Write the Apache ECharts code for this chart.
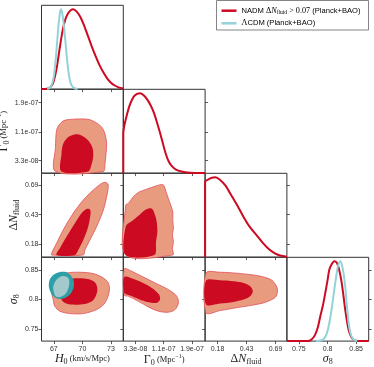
<!DOCTYPE html>
<html><head><meta charset="utf-8">
<script src="https://cdn.jsdelivr.net/npm/echarts@6/dist/echarts.min.js"></script>
<style>html,body{margin:0;padding:0;background:#fff}#c{width:374px;height:367px}</style>
</head><body><div id="c"></div>
<script>
// ---------- tick values & labels ----------
const h0Ticks = [67, 70, 73];
const h0TickLabels = ['67', '70', '73'];
const gammaTicks = [3.33, 11.1, 18.9];            // Gamma_0 in units of 1e-8 Mpc^-1
const gammaTickLabels = ['3.3e-08', '1.1e-07', '1.9e-07'];
const dnTicks = [0.18, 0.435, 0.69];
const dnTickLabels = ['0.18', '0.43', '0.69'];
const s8Ticks = [0.75, 0.80, 0.85];
const s8TickLabels = ['0.75', '0.8', '0.85'];

const seriesNames = ['NADM \u0394N_fluid > 0.07 (Planck+BAO)', '\u039BCDM (Planck+BAO)'];

// ---------- 1D marginals (normalised) ----------
const h0NadmPdf = [[65.7,0],[66.3,0.005],[66.6,0.02],[66.9,0.07],[67.1,0.15],[67.35,0.3],[67.6,0.5],[67.9,0.72],[68.2,0.87],[68.5,0.95],[68.8,0.99],[69.03,1.0],[69.4,0.97],[69.8,0.9],[70.2,0.79],[70.6,0.66],[71.0,0.53],[71.4,0.41],[71.8,0.3],[72.2,0.21],[72.6,0.135],[73.0,0.08],[73.4,0.045],[73.8,0.022],[74.3,0.008]];
const h0LcdmPdf = [[66.3,0],[66.6,0.02],[66.85,0.08],[67.05,0.2],[67.25,0.45],[67.45,0.75],[67.6,0.92],[67.73,1.0],[67.88,0.95],[68.05,0.8],[68.25,0.55],[68.45,0.3],[68.65,0.13],[68.85,0.05],[69.1,0.015],[69.5,0]];
const gammaNadmPdf = [[0,0],[0,0.5],[0.3,0.6],[0.93,0.72],[1.6,0.83],[2.3,0.91],[3.2,0.975],[4.6,1.0],[5.6,0.975],[6.6,0.92],[7.5,0.85],[8.3,0.77],[9.1,0.66],[10.0,0.52],[10.9,0.37],[11.7,0.24],[12.4,0.155],[13.3,0.09],[14.5,0.045],[16,0.02],[17.5,0.008],[19.5,0.002],[22.5,0]];
const dnNadmPdf = [[0.07,0],[0.07,0.944],[0.1,0.975],[0.13,0.995],[0.16,1.0],[0.2,0.97],[0.25,0.895],[0.29,0.8],[0.35,0.655],[0.4075,0.506],[0.46,0.385],[0.526,0.27],[0.58,0.175],[0.63,0.1],[0.68,0.05],[0.73,0.02],[0.79,0.005]];
const s8NadmPdf = [[0.729,0],[0.765,0],[0.772,0.02],[0.778,0.075],[0.783,0.17],[0.787,0.3],[0.792,0.45],[0.796,0.6],[0.8,0.76],[0.803,0.89],[0.807,0.96],[0.812,1.0],[0.816,0.985],[0.819,0.93],[0.822,0.84],[0.825,0.72],[0.828,0.56],[0.831,0.39],[0.834,0.25],[0.837,0.14],[0.841,0.06],[0.845,0.02],[0.85,0.005],[0.872,0]];
const s8LcdmPdf = [[0.78,0],[0.79,0.01],[0.795,0.04],[0.799,0.1],[0.803,0.22],[0.807,0.39],[0.811,0.6],[0.815,0.8],[0.818,0.93],[0.822,1.0],[0.825,0.96],[0.828,0.85],[0.831,0.68],[0.833,0.51],[0.835,0.36],[0.837,0.22],[0.84,0.1],[0.843,0.046],[0.847,0.01],[0.852,0]];

// ---------- 2D contours (95% / 68%) ----------
const h0Gamma95 = [[67.17,0.44],[67.17,6.95],[67.28,11.47],[67.52,12.82],[67.98,14.0],[68.51,14.36],[69.56,14.54],[70.61,14.45],[71.32,13.72],[72.02,12.37],[72.37,10.56],[72.55,7.85],[72.48,5.14],[72.37,2.43],[72.2,0.44]];
const h0Gamma68 = [[67.8,0.44],[67.8,5.14],[67.98,7.85],[68.51,9.66],[69.21,10.38],[69.91,10.11],[70.61,8.76],[71.04,6.95],[71.14,4.69],[70.97,2.43],[70.61,0.44]];
const h0Dn95 = [[66.75,0.088],[70.09,0.088],[70.26,0.131],[70.79,0.217],[71.49,0.331],[72.2,0.474],[72.55,0.589],[72.72,0.689],[72.48,0.712],[72.02,0.703],[71.14,0.646],[70.09,0.56],[69.03,0.446],[67.98,0.303],[67.28,0.188],[66.75,0.102]];
const h0Dn68 = [[67.28,0.088],[69.21,0.088],[69.56,0.131],[70.09,0.217],[70.61,0.331],[70.86,0.446],[70.79,0.48],[70.44,0.483],[69.91,0.446],[69.21,0.36],[68.33,0.245],[67.63,0.145]];
const h0S8Nadm95 = [[66.93,0.7999],[67.1,0.7885],[67.63,0.78],[68.68,0.776],[70.09,0.776],[71.49,0.7828],[72.37,0.7942],[72.83,0.814],[72.72,0.8283],[72.2,0.8368],[71.14,0.8442],[69.74,0.8465],[68.33,0.8453],[67.45,0.8396],[66.93,0.8283],[66.75,0.814]];
const h0S8Nadm68 = [[67.8,0.7999],[68.16,0.7942],[68.86,0.7914],[70.26,0.7925],[71.14,0.7988],[71.56,0.814],[71.42,0.8272],[70.79,0.834],[69.56,0.8362],[68.51,0.834],[67.8,0.8226],[67.63,0.8113]];
const h0S8Lcdm95 = [[66.47,0.822],[66.57,0.834],[67.0,0.8425],[67.63,0.8468],[68.26,0.8468],[68.79,0.8408],[69.1,0.8306],[69.05,0.8186],[68.68,0.8084],[68.05,0.8016],[67.31,0.8016],[66.79,0.8084]];
const h0S8Lcdm68 = [[67.0,0.8118],[66.94,0.822],[67.21,0.8323],[67.63,0.8382],[68.05,0.8399],[68.47,0.8374],[68.63,0.8306],[68.52,0.8186],[68.16,0.8084],[67.63,0.8041],[67.21,0.805]];
const gammaDn95 = [[0.65,0.088],[0.65,0.517],[1.39,0.531],[2.76,0.589],[4.14,0.626],[6.43,0.654],[9.19,0.683],[10.57,0.694],[11.21,0.683],[11.76,0.632],[12.4,0.574],[13.04,0.517],[13.6,0.46],[13.6,0.388],[13.78,0.317],[13.5,0.26],[13.78,0.202],[13.5,0.145],[13.6,0.088]];
const gammaDn68 = [[0.65,0.088],[0.65,0.331],[2.76,0.388],[4.59,0.437],[5.97,0.474],[7.35,0.489],[8.08,0.48],[8.72,0.431],[9.19,0.374],[9.37,0.288],[9.0,0.202],[8.54,0.088]];
const gammaS8_95 = [[0.28,0.8522],[2.31,0.8482],[5.06,0.8396],[8.73,0.8283],[12.4,0.8169],[14.7,0.8056],[15.16,0.7942],[14.24,0.7828],[12.4,0.7783],[9.65,0.78],[6.89,0.7874],[4.14,0.797],[1.39,0.8056],[0.28,0.8073]];
const gammaS8_68 = [[0.28,0.8385],[3.22,0.834],[5.98,0.8266],[8.27,0.8181],[9.83,0.8084],[10.11,0.7999],[9.19,0.7942],[6.89,0.7953],[4.14,0.801],[1.85,0.8067],[0.28,0.8113]];
const dnS8_95 = [[0.0788,0.8453],[0.2022,0.8465],[0.3197,0.8453],[0.4666,0.8425],[0.584,0.8385],[0.6575,0.8328],[0.6957,0.8237],[0.7074,0.8158],[0.6957,0.8056],[0.6575,0.7999],[0.584,0.7942],[0.4666,0.7897],[0.3197,0.7851],[0.2022,0.7811],[0.0788,0.7772]];
const dnS8_68 = [[0.0788,0.8323],[0.2022,0.8328],[0.3197,0.8311],[0.4078,0.8283],[0.4666,0.8226],[0.4901,0.814],[0.4666,0.8056],[0.4078,0.7999],[0.3197,0.7959],[0.2022,0.7931],[0.0788,0.7914]];

// ---------- styling ----------
const RED = '#cc0a22', SALMON = '#e89b7f', EDGE = '#e2505a';
const CYAN = '#93d3d8', TEAL = '#2c9fa7', TEAL_IN = '#a4c9cd';
const TXT = '#222';
const SERIF = 'Liberation Serif', SANS = 'Liberation Sans';

const NAME_RICH = {
  i:   {fontFamily: SERIF, fontStyle: 'italic', fontSize: 12, lineHeight: 14, color: TXT},
  r:   {fontFamily: SERIF, fontSize: 12, lineHeight: 14, color: TXT},
  sub: {fontFamily: SERIF, fontSize: 8, lineHeight: 7, verticalAlign: 'bottom', color: TXT},
  u:   {fontFamily: SERIF, fontSize: 8.5, lineHeight: 14, color: TXT},
  sup: {fontFamily: SERIF, fontSize: 6, lineHeight: 8, verticalAlign: 'top', color: TXT}
};

const VARS = [
  {min: 65.7, max: 74.3, ticks: h0Ticks, labels: h0TickLabels, name: '{i|H}{sub|0}{u| (km/s/Mpc)}', yGap: 19},
  {min: 0, max: 22.5, ticks: gammaTicks, labels: gammaTickLabels, name: '{r|\u0393}{sub|0}{u| (Mpc}{sup|\u22121}{u|)}', yGap: 26},
  {min: 0.07, max: 0.79, ticks: dnTicks, labels: dnTickLabels, name: '{r|\u0394}{i|N}{sub|fluid}', yGap: 19},
  {min: 0.729, max: 0.872, ticks: s8Ticks, labels: s8TickLabels, name: '{i|\u03C3}{sub|8}', yGap: 19}
];

const COL_LEFT = [41.5, 123.3, 205.1, 286.9];
const ROW_TOP = [5.3, 89.3, 173.3, 257.3];
const CELL_W = 81.8, CELL_H = 83.8;

function labelOf(v, val) {
  for (let i = 0; i < v.ticks.length; i++) if (Math.abs(v.ticks[i] - val) < 1e-9) return v.labels[i];
  return '';
}

const grids = [], xAxes = [], yAxes = [], series = [];

function makeAxis(v, gi, isX, showLabels, showName) {
  return {
    type: 'value', gridIndex: gi, min: v.min, max: v.max, scale: false,
    axisLine: {show: false}, splitLine: {show: false}, splitArea: {show: false},
    axisTick: {show: true, inside: false, length: 3, customValues: v.ticks, lineStyle: {color: '#333', width: 0.8}},
    axisLabel: {show: showLabels, customValues: v.ticks, formatter: val => labelOf(v, val),
      fontSize: 7, color: '#333', fontFamily: SANS, margin: isX ? 4 : 3},
    name: showName ? v.name : '', nameLocation: 'middle',
    nameGap: isX ? 9 : v.yGap, nameRotate: isX ? 0 : 90,
    nameTextStyle: {rich: NAME_RICH, color: TXT}
  };
}

function polySeries(xi, yi, pts, fill, stroke, z) {
  return {
    type: 'custom', xAxisIndex: xi, yAxisIndex: yi, coordinateSystem: 'cartesian2d',
    data: pts, z: z, silent: true, encode: {x: 0, y: 1},
    renderItem: function (params, api) {
      if (params.dataIndex !== 0) return null;
      const points = pts.map(p => api.coord(p));
      return {type: 'polygon', shape: {points: points, smooth: 0.3},
        style: {fill: fill, stroke: stroke || null, lineWidth: stroke ? 0.8 : 0}};
    }
  };
}

function lineSeries(xi, yi, data, color, z, name) {
  return {type: 'line', name: name, xAxisIndex: xi, yAxisIndex: yi, data: data, showSymbol: false, symbol: 'none',
    smooth: 0.3, silent: true, z: z, lineStyle: {color: color, width: 2}, itemStyle: {color: color}};
}

const twoD = {
  '1,0': [[h0Gamma95, SALMON, EDGE], [h0Gamma68, RED, null]],
  '2,0': [[h0Dn95, SALMON, EDGE], [h0Dn68, RED, null]],
  '3,0': [[h0S8Nadm95, SALMON, EDGE], [h0S8Nadm68, RED, null], [h0S8Lcdm95, TEAL, null], [h0S8Lcdm68, TEAL_IN, null]],
  '2,1': [[gammaDn95, SALMON, EDGE], [gammaDn68, RED, null]],
  '3,1': [[gammaS8_95, SALMON, EDGE], [gammaS8_68, RED, null]],
  '3,2': [[dnS8_95, SALMON, EDGE], [dnS8_68, RED, null]]
};
const oneD = {
  0: [[h0NadmPdf, RED], [h0LcdmPdf, CYAN]],
  1: [[gammaNadmPdf, RED]],
  2: [[dnNadmPdf, RED]],
  3: [[s8NadmPdf, RED], [s8LcdmPdf, CYAN]]
};

for (let r = 0; r < 4; r++) {
  for (let c = 0; c <= r; c++) {
    const gi = grids.length;
    grids.push({left: COL_LEFT[c], top: ROW_TOP[r], width: CELL_W, height: CELL_H,
      show: true, borderColor: '#333', borderWidth: 1, backgroundColor: 'rgba(0,0,0,0)',
      containLabel: false, outerBoundsMode: 'none'});
    const xi = xAxes.length;
    xAxes.push(makeAxis(VARS[c], gi, true, r === 3, r === 3));
    if (c === r) {
      const yi = yAxes.length;
      yAxes.push({type: 'value', gridIndex: gi, min: 0, max: 1.05, show: false});
      if (r > 0) {
        const t = makeAxis(VARS[r], gi, false, false, false);
        yAxes.push(t);
      }
      oneD[r].forEach((d, k) => series.push(lineSeries(xi, yi, d[0], d[1], 5 + k, seriesNames[k])));
    } else {
      const yi = yAxes.length;
      yAxes.push(makeAxis(VARS[r], gi, false, c === 0, c === 0));
      twoD[r + ',' + c].forEach((p, k) => series.push(polySeries(xi, yi, p[0], p[1], p[2], 2 + k)));
    }
  }
}

const LEG_RICH = {
  s:   {fontFamily: SANS, fontSize: 7.6, lineHeight: 10, color: TXT},
  r:   {fontFamily: SERIF, fontSize: 8.2, lineHeight: 10, color: TXT},
  i:   {fontFamily: SERIF, fontStyle: 'italic', fontSize: 8.2, lineHeight: 10, color: TXT},
  sub: {fontFamily: SERIF, fontSize: 5.5, lineHeight: 5, verticalAlign: 'bottom', color: TXT}
};

const chart = echarts.init(document.getElementById('c'), null, {renderer: 'canvas', width: 374, height: 367});
chart.setOption({
  animation: false,
  backgroundColor: '#fff',
  grid: grids, xAxis: xAxes, yAxis: yAxes, series: series,
  graphic: [
    {type: 'rect', z: 100, shape: {x: 216.5, y: 0.5, width: 152, height: 29.5}, style: {fill: '#fff', stroke: '#666', lineWidth: 0.8}},
    {type: 'line', z: 101, shape: {x1: 221.5, y1: 10.7, x2: 236.5, y2: 10.7}, style: {stroke: RED, lineWidth: 2.5}},
    {type: 'line', z: 101, shape: {x1: 221.5, y1: 23.3, x2: 236.5, y2: 23.3}, style: {stroke: CYAN, lineWidth: 2.5}},
    {type: 'text', z: 101, x: 241.5, y: 10.7, style: {text: '{s|NADM }{r|\u0394}{i|N}{sub|fluid}{r| > 0.07}{s| (Planck+BAO)}', rich: LEG_RICH, verticalAlign: 'middle', align: 'left'}},
    {type: 'text', z: 101, x: 241.5, y: 23.3, style: {text: '{r|\u039B}{s|CDM (Planck+BAO)}', rich: LEG_RICH, verticalAlign: 'middle', align: 'left'}}
  ]
});
</script></body></html>
